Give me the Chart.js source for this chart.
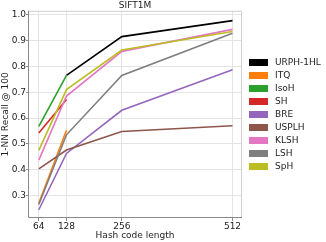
<!DOCTYPE html>
<html>
<head>
<meta charset="utf-8">
<script src="https://cdn.jsdelivr.net/npm/chart.js@4"></script>
<style>
  html, body { margin: 0; padding: 0; background: #fff; }
  #wrap { width: 326px; height: 242px; }
</style>
</head>
<body>
<div id="wrap"><canvas id="chart" width="326" height="242"></canvas></div>
<script>
// ===== Data =====
const codeLengths = [64, 128, 256, 512];
const yTicks = [0.3, 0.4, 0.5, 0.6, 0.7, 0.8, 0.9, 1.0];

const urph1hl = [null, 0.765, 0.915, 0.977];
const itq     = [0.270, 0.553, null, null];
const isoh    = [0.568, 0.765, null, null];
const sh      = [0.542, 0.672, null, null];
const bre     = [0.245, 0.463, 0.630, 0.787];
const usplh   = [0.403, 0.476, 0.548, 0.570];
const klsh    = [0.437, 0.685, 0.858, 0.943];
const lsh     = [0.265, 0.535, 0.765, 0.928];
const sph     = [0.475, 0.710, 0.863, 0.935];

const FONT = 'DejaVu Sans';

function series(label, values, color) {
  return {
    label,
    data: codeLengths.map((x, i) => ({ x, y: values[i] })),
    borderColor: color,
    backgroundColor: color,
    borderWidth: 1.6,
    pointRadius: 0,
    tension: 0,
    spanGaps: false
  };
}

const datasets = [
  series('URPH-1HL', urph1hl, '#000000'),
  series('ITQ', itq, '#ff7f0e'),
  series('IsoH', isoh, '#2ca02c'),
  series('SH', sh, '#d62728'),
  series('BRE', bre, '#9467bd'),
  series('USPLH', usplh, '#8c564b'),
  series('KLSH', klsh, '#e377c2'),
  series('LSH', lsh, '#7f7f7f'),
  series('SpH', sph, '#bcbd22')
];
// matplotlib draws later series on top; chart.js draws lower order on top
datasets.forEach((d, i) => d.order = datasets.length - i);

// frame + legend drawn outside plot, like the matplotlib figure
const frameLegend = {
  id: 'frameLegend',
  afterDraw(chart) {
    const { ctx, chartArea: a } = chart;
    ctx.save();
    ctx.strokeStyle = '#cfcfcf';
    ctx.lineWidth = 1;
    ctx.beginPath();
    ctx.moveTo(a.left, a.top + 0.5);
    ctx.lineTo(a.right - 0.5, a.top + 0.5);
    ctx.lineTo(a.right - 0.5, a.bottom);
    ctx.stroke();
    ctx.strokeStyle = '#8a8a8a';
    ctx.beginPath();
    ctx.moveTo(a.left + 0.5, a.top);
    ctx.lineTo(a.left + 0.5, a.bottom - 0.5);
    ctx.lineTo(a.right, a.bottom - 0.5);
    ctx.stroke();

    ctx.font = '9px ' + FONT;
    ctx.textBaseline = 'middle';
    chart.data.datasets.forEach((d, i) => {
      const y = 62.5 + i * 13;
      ctx.fillStyle = d.borderColor;
      ctx.fillRect(249, y - 3.5, 19, 7);
      ctx.fillStyle = '#222';
      ctx.fillText(d.label, 275, y);
    });
    ctx.restore();
  }
};

new Chart(document.getElementById('chart'), {
  type: 'line',
  data: { datasets },
  plugins: [frameLegend],
  options: {
    responsive: false,
    animation: false,
    layout: { padding: { left: 0, right: 84, top: 0, bottom: 0 } },
    plugins: {
      legend: { display: false },
      tooltip: { enabled: false },
      title: {
        display: true,
        text: 'SIFT1M',
        fullSize: false,
        color: '#222',
        font: { family: FONT, size: 9, weight: 'normal' },
        padding: { top: 0, bottom: 0 }
      }
    },
    scales: {
      x: {
        type: 'linear',
        min: 39,
        max: 534,
        afterBuildTicks: s => { s.ticks = codeLengths.map(v => ({ value: v })); },
        afterTickToLabelConversion: s => { s.ticks.forEach(t => { t.label = String(t.value); }); },
        afterFit: s => { s.height = 24; },
        ticks: {
          color: '#222',
          font: { family: FONT, size: 9 },
          padding: 0,
          maxRotation: 0,
          autoSkip: false
        },
        grid: { color: '#e4e4e4', tickLength: 3, tickColor: '#8a8a8a' },
        border: { display: false },
        title: {
          display: true,
          text: 'Hash code length',
          color: '#222',
          font: { family: FONT, size: 9 },
          padding: { top: 0, bottom: 1 }
        }
      },
      y: {
        type: 'linear',
        min: 0.213,
        max: 1.015,
        afterBuildTicks: s => { s.ticks = yTicks.map(v => ({ value: v })); },
        afterTickToLabelConversion: s => { s.ticks.forEach(t => { t.label = t.value.toFixed(1); }); },
        afterFit: s => { s.width = 28; },
        ticks: {
          color: '#222',
          font: { family: FONT, size: 9 },
          padding: 0
        },
        grid: { color: '#e4e4e4', tickLength: 2, tickColor: '#8a8a8a' },
        border: { display: false },
        title: {
          display: true,
          text: '1-NN Recall @ 100',
          color: '#222',
          font: { family: FONT, size: 9 },
          padding: { top: 0, bottom: 0 }
        }
      }
    }
  }
});
</script>
</body>
</html>
